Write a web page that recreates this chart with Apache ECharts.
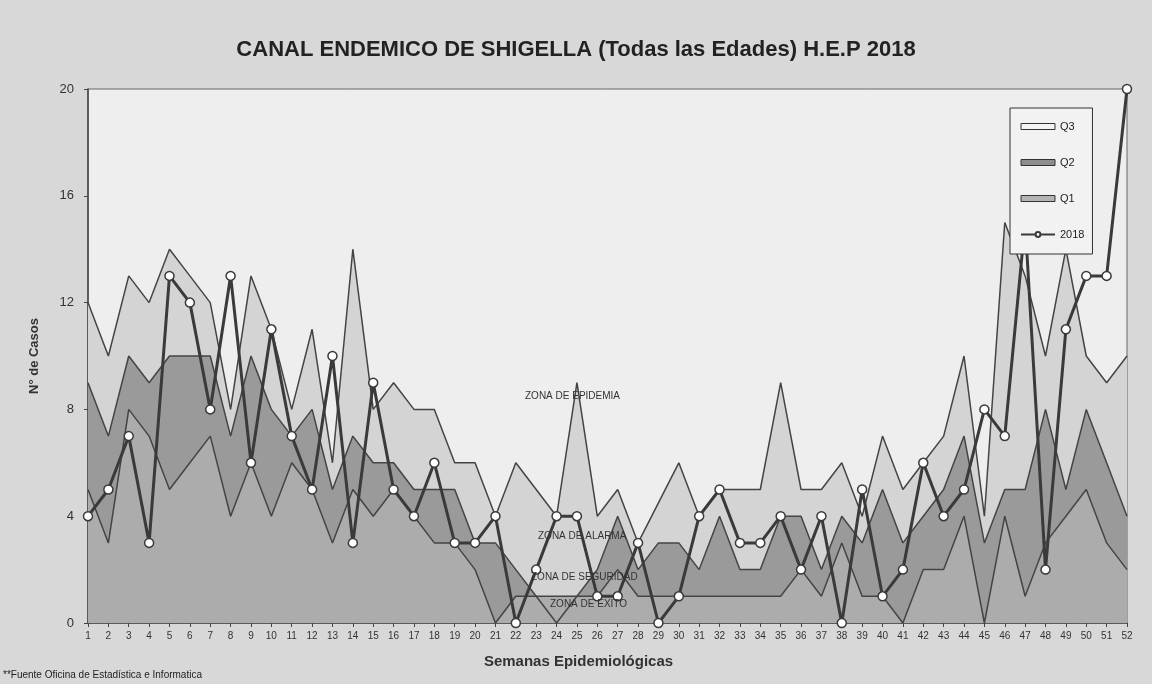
<!DOCTYPE html>
<html>
<head>
<meta charset="utf-8">
<script src="https://cdn.jsdelivr.net/npm/echarts@6/dist/echarts.min.js"></script>
<style>
  html, body { margin: 0; padding: 0; background: #d8d8d8; }
  #chart { width: 1152px; height: 684px; }
</style>
</head>
<body>
<div id="chart"></div>
<script>
const weeks = Array.from({length: 52}, (_, i) => String(i + 1));

const q3 = [12,10,13,12,14,13,12,8,13,11,8,11,6,14,8,9,8,8,6,6,4,6,5,4,9,4,5,3,4.5,6,4,5,5,5,9,5,5,6,4,7,5,6,7,10,4,15,13,10,14,10,9,10];
const q2 = [9,7,10,9,10,10,10,7,10,8,7,8,5,7,6,6,5,5,5,3,3,2,1,0,1,2,4,2,3,3,2,4,2,2,4,4,2,4,3,5,3,4,5,7,3,5,5,8,5,8,6,4];
const q1 = [5,3,8,7,5,6,7,4,6,4,6,5,3,5,4,5,4,3,3,2,0,1,1,1,1,1,2,1,1,1,1,1,1,1,1,2,1,3,1,1,0,2,2,4,0,4,1,3,4,5,3,2];
const y2018 = [4,5,7,3,13,12,8,13,6,11,7,5,10,3,9,5,4,6,3,3,4,0,2,4,4,1,1,3,0,1,4,5,3,3,4,2,4,0,5,1,2,6,4,5,8,7,15,2,11,13,13,20];

const zoneLabels = ['ZONA DE EPIDEMIA', 'ZONA DE ALARMA', 'ZONA DE SEGURIDAD', 'ZONA DE EXITO'];

const chart = echarts.init(document.getElementById('chart'));
const lineCol = '#444444';
const font = 'Liberation Sans, Arial';

chart.setOption({
  backgroundColor: '#d8d8d8',
  animation: false,
  title: {
    text: 'CANAL ENDEMICO DE SHIGELLA (Todas las Edades) H.E.P 2018',
    left: 'center',
    top: 34,
    textStyle: { fontFamily: font, fontSize: 22, fontWeight: 'bold', color: '#222' }
  },
  legend: {
    orient: 'vertical',
    left: 1010,
    top: 108,
    z: 20,
    padding: [13, 8, 14, 10],
    itemGap: 25,
    itemWidth: 34,
    itemHeight: 6,
    backgroundColor: '#f2f2f2',
    borderColor: '#333',
    borderWidth: 1,
    borderRadius: 0,
    textStyle: { fontFamily: font, fontSize: 11, color: '#222' },
    data: [
      { name: 'Q3', icon: 'rect', itemStyle: { color: '#f4f4f4', borderColor: '#333', borderWidth: 1 } },
      { name: 'Q2', icon: 'rect', itemStyle: { color: '#8e8e8e', borderColor: '#333', borderWidth: 1 } },
      { name: 'Q1', icon: 'rect', itemStyle: { color: '#b4b4b4', borderColor: '#333', borderWidth: 1 } },
      { name: '2018' }
    ]
  },
  grid: {
    left: 88, right: 25, top: 89, bottom: 61,
    show: true,
    backgroundColor: '#eeeeee',
    borderColor: '#666',
    borderWidth: 1
  },
  xAxis: {
    type: 'category',
    data: weeks,
    boundaryGap: false,
    name: 'Semanas Epidemiológicas',
    nameLocation: 'middle',
    nameGap: 31,
    nameTextStyle: { fontFamily: font, fontSize: 15, fontWeight: 'bold', color: '#333', padding: [0, 58, 0, 0] },
    axisLine: { lineStyle: { color: '#444', width: 1.5 } },
    axisTick: { show: true, interval: 0, length: 4, lineStyle: { color: '#444' } },
    axisLabel: { interval: 0, fontSize: 10, color: '#333', margin: 8, fontFamily: font },
    splitLine: { show: false }
  },
  yAxis: {
    type: 'value',
    min: 0, max: 20, interval: 4,
    name: 'N° de Casos',
    nameLocation: 'middle',
    nameRotate: 90,
    nameGap: 47,
    nameTextStyle: { fontFamily: font, fontSize: 13, fontWeight: 'bold', color: '#333' },
    axisLine: { show: true, lineStyle: { color: '#444', width: 1.5 } },
    axisTick: { show: true, length: 4, lineStyle: { color: '#444' } },
    axisLabel: { fontSize: 13, color: '#333', margin: 14, fontFamily: font },
    splitLine: { show: false }
  },
  series: [
    {
      name: 'Q3', type: 'line', data: q3, symbol: 'none', z: 1,
      lineStyle: { color: lineCol, width: 1.5 },
      itemStyle: { color: '#f4f4f4' },
      areaStyle: { color: '#d4d4d4', opacity: 1 }
    },
    {
      name: 'Q2', type: 'line', data: q2, symbol: 'none', z: 1,
      lineStyle: { color: lineCol, width: 1.5 },
      itemStyle: { color: '#8e8e8e' },
      areaStyle: { color: '#9a9a9a', opacity: 1 }
    },
    {
      name: 'Q1', type: 'line', data: q1, symbol: 'none', z: 1,
      lineStyle: { color: lineCol, width: 1.5 },
      itemStyle: { color: '#b4b4b4' },
      areaStyle: { color: '#acacac', opacity: 1 }
    },
    {
      name: '2018', type: 'line', data: y2018, z: 2,
      symbol: 'circle', symbolSize: 9,
      lineStyle: { color: '#3a3a3a', width: 3 },
      itemStyle: { color: '#ffffff', borderColor: '#3a3a3a', borderWidth: 1.5 }
    }
  ],
  graphic: [
    { type: 'text', left: 525, top: 391, z: 10, style: { text: zoneLabels[0], fontSize: 10, fill: '#333', fontFamily: font } },
    { type: 'text', left: 538, top: 531, z: 10, style: { text: zoneLabels[1], fontSize: 10, fill: '#333', fontFamily: font } },
    { type: 'text', left: 531, top: 572, z: 10, style: { text: zoneLabels[2], fontSize: 10, fill: '#333', fontFamily: font } },
    { type: 'text', left: 550, top: 599, z: 10, style: { text: zoneLabels[3], fontSize: 10, fill: '#333', fontFamily: font } },
    { type: 'text', left: 3, top: 670, z: 10, style: { text: '**Fuente Oficina de Estadística e Informatica', fontSize: 10, fill: '#222', fontFamily: font } }
  ]
});
</script>
</body>
</html>
